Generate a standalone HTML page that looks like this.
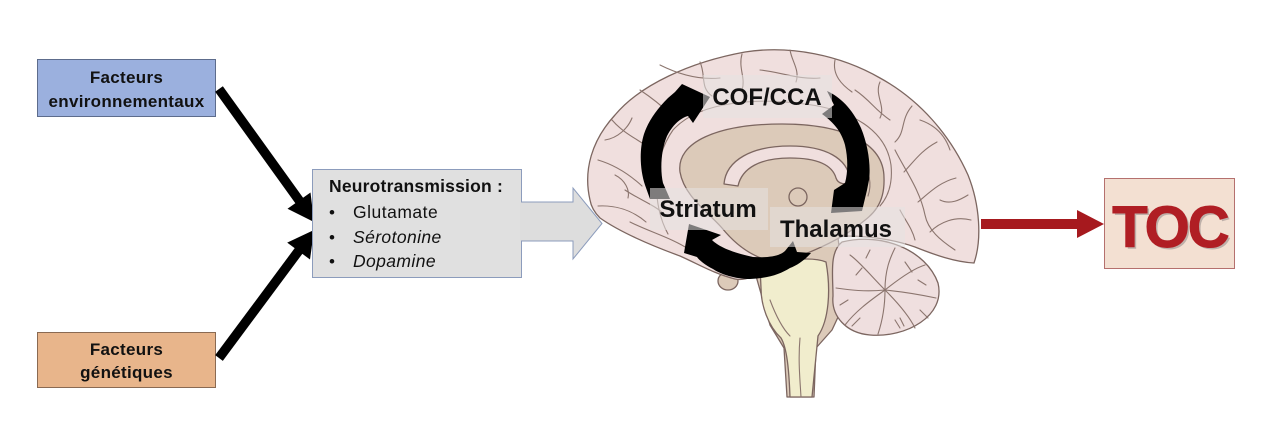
<!DOCTYPE html>
<html>
<head>
<meta charset="utf-8">
<style>
  html,body{margin:0;padding:0;background:#fff;}
  svg{display:block;}
  text{font-family:"Liberation Sans", Arial, sans-serif;}
</style>
</head>
<body>
<svg width="1280" height="437" viewBox="0 0 1280 437" xmlns="http://www.w3.org/2000/svg">
  <rect x="0" y="0" width="1280" height="437" fill="#ffffff"/>

  <!-- Left boxes -->
  <rect x="37.5" y="59.5" width="178" height="57" fill="#9bb0de" stroke="#5d6c8c" stroke-width="1"/>
  <text x="126.5" y="83" font-size="17" font-weight="bold" letter-spacing="0.3" text-anchor="middle" fill="#111">Facteurs</text>
  <text x="126.5" y="107" font-size="17" font-weight="bold" letter-spacing="0.3" text-anchor="middle" fill="#111">environnementaux</text>

  <rect x="37.5" y="332.5" width="178" height="55" fill="#e8b58b" stroke="#8a6a52" stroke-width="1"/>
  <text x="126.5" y="355" font-size="17" font-weight="bold" letter-spacing="0.3" text-anchor="middle" fill="#111">Facteurs</text>
  <text x="126.5" y="378" font-size="17" font-weight="bold" letter-spacing="0.3" text-anchor="middle" fill="#111">génétiques</text>

  <!-- Black arrows to gray box -->
  <line x1="219" y1="89" x2="301" y2="203" stroke="#000" stroke-width="9.5"/>
  <polygon points="314,222 310.5,192.5 287.5,208.8" fill="#000"/>
  <line x1="219" y1="358" x2="300" y2="249" stroke="#000" stroke-width="9.5"/>
  <polygon points="314,230 310,259.5 287.2,242.6" fill="#000"/>

  <!-- Gray box with block arrow -->
  <polygon points="521,202 573,202 573,188 602,223.5 573,259 573,241 521,241" fill="#dddddd" stroke="#8c9cbc" stroke-width="1"/>
  <rect x="312.5" y="169.5" width="209" height="108" fill="#e0e0e0" stroke="#8c9cbc" stroke-width="1"/>
  <rect x="520" y="202.5" width="3" height="38" fill="#dddddd"/>
  <text x="329" y="192" font-size="17.5" font-weight="bold" letter-spacing="0.2" fill="#111">Neurotransmission :</text>
  <text x="329" y="218" font-size="17" fill="#111">•</text>
  <text x="353" y="218" font-size="17.5" letter-spacing="0.5" fill="#111">Glutamate</text>
  <text x="329" y="243" font-size="17" fill="#111">•</text>
  <text x="353" y="243" font-size="17.5" letter-spacing="0.4" font-style="italic" fill="#111">Sérotonine</text>
  <text x="329" y="267" font-size="17" fill="#111">•</text>
  <text x="353" y="267" font-size="17.5" letter-spacing="0.4" font-style="italic" fill="#111">Dopamine</text>

  <!-- BRAIN -->
  <g stroke="#7c6660" stroke-width="1.3" stroke-linejoin="round">
    <path d="M752,262 L838,238 L846,300 L832,330 L816,348 L814,397 L787,397 L784,348 L770,325 Z" fill="#dccab9"/>
    <ellipse cx="728" cy="281" rx="10" ry="9" fill="#dccab9"/>
    <path d="M590,200 C583,170 592,140 615,115 C640,85 690,62 745,52 C790,45 840,55 880,78 C920,100 950,135 968,175 C980,205 982,240 974,263 C955,262 935,255 915,247 C895,240 870,236 845,236 C820,240 800,250 780,262 C762,272 748,282 735,279 C715,274 700,265 680,256 C650,245 620,232 600,218 C594,212 591,206 590,200 Z" fill="#f0dfde"/>
    <path d="M680,172 C676,142 718,124 782,124 C842,124 884,142 884,178 C885,205 872,215 860,224 C845,236 825,246 805,254 L775,262 C752,258 735,244 722,228 C708,212 684,196 680,172 Z" fill="#dccab9"/>
    <path d="M724,184 C726,160 752,146 790,146 C825,146 848,158 850,180 C846,186 838,184 836,178 C832,164 815,158 790,158 C760,158 742,168 738,186 Z" fill="#f0dfde"/>
    <circle cx="798" cy="197" r="9" fill="#dccab9"/>
    <path d="M760,266 C780,260 812,256 826,262 C831,290 829,320 818,336 L812,397 L790,397 C789,370 787,348 781,338 C768,326 761,305 761,288 Z" fill="#f1edcd"/>
    <path d="M842,242 C882,232 926,250 938,283 C946,316 906,338 870,335 C846,333 831,316 833,296 C833,276 829,252 842,242 Z" fill="#efdfdf"/>
  </g>

  <!-- gyri lines -->
  <g fill="none" stroke="#8b756e" stroke-width="1.1" stroke-linecap="round">
    <path d="M668,234 C652,205 652,160 673,130 C700,100 760,98 805,104 C852,110 886,130 891,165 C893,185 887,198 880,206"/>
    <path d="M612,120 C625,135 640,140 652,150"/>
    <path d="M598,160 C615,165 630,175 642,186"/>
    <path d="M598,206 C615,205 632,210 646,222"/>
    <path d="M640,90 C652,98 662,106 670,114"/>
    <path d="M700,62 C706,75 700,88 712,96"/>
    <path d="M742,54 C738,68 746,78 742,90"/>
    <path d="M790,50 C792,62 800,70 796,82"/>
    <path d="M835,60 C832,75 842,85 852,92"/>
    <path d="M880,82 C874,95 886,106 880,118"/>
    <path d="M912,106 C900,120 906,132 895,142"/>
    <path d="M937,142 C922,150 915,160 904,172"/>
    <path d="M956,178 C940,182 930,192 918,202"/>
    <path d="M971,220 C955,216 940,222 930,232"/>
    <path d="M895,150 C905,170 920,190 925,215 C928,230 940,240 955,250"/>
    <path d="M900,210 C905,220 912,228 915,240"/>
    <path d="M625,190 C640,200 655,205 665,215"/>
    <path d="M630,222 C650,232 672,238 690,250 C705,258 715,262 722,272"/>
    <path d="M690,233 C705,243 725,250 742,258"/>
    <path d="M660,65 C680,75 700,80 720,78"/>
    <path d="M760,70 C780,72 800,80 820,78"/>
    <path d="M855,90 C870,100 875,110 890,120"/>
    <path d="M605,140 C618,138 628,128 632,118"/>
    <path d="M920,120 C935,125 945,135 950,150"/>
    <path d="M940,200 C950,205 960,200 968,195"/>
    <path d="M615,175 C625,180 630,190 628,198"/>
    <path d="M860,160 C870,170 872,185 868,196"/>
    <!-- cerebellum folds -->
    <path d="M885,290 C870,275 860,262 850,255"/>
    <path d="M885,290 C885,270 890,258 895,248"/>
    <path d="M885,290 C900,278 915,268 925,265"/>
    <path d="M885,290 C905,292 922,295 936,298"/>
    <path d="M885,290 C900,305 910,318 915,328"/>
    <path d="M885,290 C885,308 882,322 878,334"/>
    <path d="M885,290 C868,302 855,312 845,325"/>
    <path d="M885,290 C865,292 850,290 836,288"/>
    <path d="M862,268 L856,275 M905,262 L912,272 M920,310 L928,318 M860,318 L852,326 M895,320 L900,328"/>
    <path d="M870,250 L866,258 M918,280 L926,285 M848,300 L840,305 M900,318 L904,326"/>
    <path d="M800,338 C798,360 800,380 801,397"/>
    <path d="M770,300 C776,316 782,328 790,336"/>
  </g>

  <!-- circular black arrows -->
  <g fill="#000">
    <path d="M650,199 L645,185 C640,170 639,150 644,134 C648,122 656,110 668,98 L675,92 L682,84 L710,97 L693,123 L688,116 C680,118 672,126 667,136 C661,150 660,170 663,183 L670,199 Z"/>
    <path d="M827,91 C840,97 852,108 861,128 C868,145 871,165 869,180 L867,190 L862,211 L831,213 L834,190 L845,183 C848,172 848,158 845,145 C842,134 836,124 822,114 L834,105 Z"/>
    <path d="M689,224 L721,235 L712,240 C718,246 730,252 753,257 C768,258 780,256 785,251 L793,241 L797,252 L811,253 C805,260 796,266 790,268 C780,274 770,278 750,279 C735,279 720,274 713,269 C705,265 699,260 697,257 L684,253 Z"/>
  </g>

  <!-- label backgrounds -->
  <rect x="703" y="75" width="129" height="43" fill="#e6e2e2" fill-opacity="0.55"/>
  <rect x="650" y="188" width="118" height="42" fill="#e6e2e2" fill-opacity="0.55"/>
  <rect x="770" y="207" width="135" height="40" fill="#e6e2e2" fill-opacity="0.55"/>

  <text x="767" y="105" font-size="24" font-weight="bold" text-anchor="middle" fill="#111">COF/CCA</text>
  <text x="708" y="217" font-size="24" font-weight="bold" text-anchor="middle" fill="#111">Striatum</text>
  <text x="836" y="237" font-size="24" font-weight="bold" text-anchor="middle" fill="#111">Thalamus</text>

  <!-- red arrow -->
  <rect x="981" y="219" width="97" height="10" fill="#a6191e"/>
  <polygon points="1077,210 1104,224 1077,238" fill="#a6191e"/>

  <!-- TOC box -->
  <rect x="1104.5" y="178.5" width="130" height="90" fill="#f3e0d2" stroke="#b5706e" stroke-width="1"/>
  <text x="1172" y="249" font-size="58" font-weight="bold" text-anchor="middle" letter-spacing="-2" fill="#8a8080" fill-opacity="0.5">TOC</text>
  <text x="1170" y="247" font-size="58" font-weight="bold" text-anchor="middle" letter-spacing="-2" fill="#b01e24" stroke="#b01e24" stroke-width="1">TOC</text>
</svg>
</body>
</html>
